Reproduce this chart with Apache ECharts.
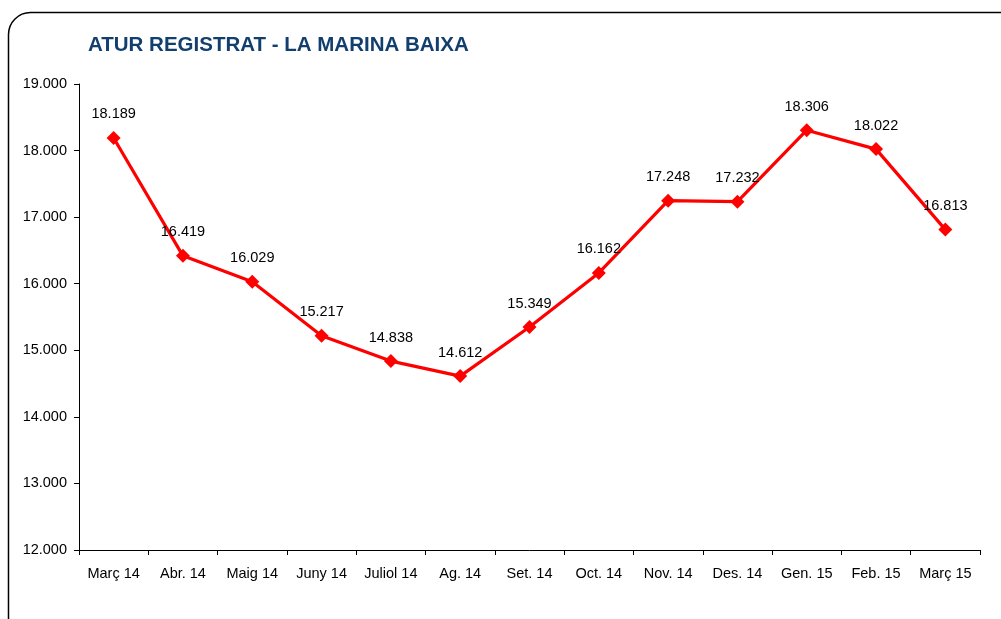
<!DOCTYPE html>
<html>
<head>
<meta charset="utf-8">
<script src="https://cdn.jsdelivr.net/npm/echarts@6/dist/echarts.min.js"></script>
<style>
html,body{margin:0;padding:0;background:#fff;}
#chart{width:1001px;height:619px;}
</style>
</head>
<body>
<div id="chart"></div>
<script>
const categories = ['Març 14','Abr. 14','Maig 14','Juny 14','Juliol 14','Ag. 14','Set. 14','Oct. 14','Nov. 14','Des. 14','Gen. 15','Feb. 15','Març 15'];
const values = [18189,16419,16029,15217,14838,14612,15349,16162,17248,17232,18306,18022,16813];
const titleText = 'ATUR REGISTRAT - LA MARINA BAIXA';

function fmt(v){
  return String(v).replace(/\B(?=(\d{3})+(?!\d))/g,'.');
}

const FF = 'Liberation Sans, Arial, sans-serif';
const chart = echarts.init(document.getElementById('chart'), null, {renderer:'canvas'});
chart.setOption({
  animation:false,
  backgroundColor:'#ffffff',
  textStyle:{fontFamily:FF},
  graphic:[{
    type:'rect',
    shape:{x:8.5,y:12.5,width:1020,height:630,r:22},
    style:{fill:'none',stroke:'#000',lineWidth:1.5},
    z:-1
  }],
  title:{
    text:titleText,
    left:83,top:30,
    textStyle:{fontFamily:FF,fontSize:20.5,fontWeight:'bold',color:'#123f6e'}
  },
  grid:{left:79,right:21,top:84,bottom:69,containLabel:false},
  xAxis:{
    type:'category',
    data:categories,
    boundaryGap:true,
    axisLine:{lineStyle:{color:'#000',width:1}},
    axisTick:{show:true,length:5,lineStyle:{color:'#000'}},
    axisLabel:{color:'#000',fontSize:14.5,margin:16,interval:0,fontFamily:FF},
    splitLine:{show:false}
  },
  yAxis:{
    type:'value',
    min:12000,max:19000,interval:1000,
    axisLine:{show:true,lineStyle:{color:'#000',width:1}},
    axisTick:{show:true,length:5,lineStyle:{color:'#000'}},
    axisLabel:{color:'#000',fontSize:14.5,margin:12,formatter:fmt,fontFamily:FF},
    splitLine:{show:false}
  },
  series:[{
    type:'line',
    data:values,
    symbol:'diamond',
    symbolSize:14,
    lineStyle:{color:'#ff0000',width:3.2},
    itemStyle:{color:'#ff0000'},
    label:{show:true,position:'top',distance:9,color:'#000',fontSize:14.5,formatter:p=>fmt(p.value),fontFamily:FF}
  }]
});
</script>
</body>
</html>
